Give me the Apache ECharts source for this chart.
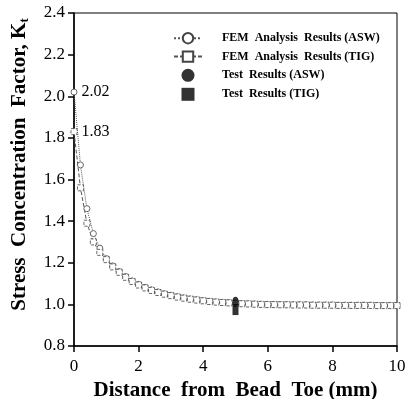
<!DOCTYPE html>
<html>
<head>
<meta charset="utf-8">
<script src="https://cdn.jsdelivr.net/npm/echarts@6/dist/echarts.min.js"></script>
<style>
  html, body { margin: 0; padding: 0; background: #fff; }
  #chart { width: 410px; height: 399px; }
</style>
</head>
<body>
<div id="chart"></div>
<script>
// distance from bead toe (mm)
const distance = [0, 0.2, 0.4, 0.6, 0.8, 1.0, 1.2, 1.4, 1.6, 1.8,
  2.0, 2.2, 2.4, 2.6, 2.8, 3.0, 3.2, 3.4, 3.6, 3.8,
  4.0, 4.2, 4.4, 4.6, 4.8, 5.0, 5.2, 5.4, 5.6, 5.8,
  6.0, 6.2, 6.4, 6.6, 6.8, 7.0, 7.2, 7.4, 7.6, 7.8,
  8.0, 8.2, 8.4, 8.6, 8.8, 9.0, 9.2, 9.4, 9.6, 9.8, 10.0]

const femAsw = [2.02, 1.67, 1.46, 1.34, 1.27, 1.22, 1.185, 1.158, 1.134, 1.113,
  1.096, 1.082, 1.070, 1.060, 1.051, 1.044, 1.037, 1.031, 1.026, 1.022,
  1.018, 1.015, 1.012, 1.010, 1.008, 1.006, 1.004, 1.003, 1.002, 1.001,
  1.000, 1.000, 0.999, 0.999, 0.998, 0.998, 0.998, 0.997, 0.997, 0.997,
  0.997, 0.996, 0.996, 0.996, 0.996, 0.996, 0.996, 0.995, 0.995, 0.995, 0.995]

const femTig = [1.83, 1.56, 1.39, 1.30, 1.25, 1.215, 1.180, 1.154, 1.130, 1.110,
  1.093, 1.079, 1.067, 1.057, 1.049, 1.042, 1.035, 1.030, 1.025, 1.021,
  1.017, 1.014, 1.011, 1.009, 1.007, 1.005, 1.003, 1.002, 1.001, 1.000,
  0.999, 0.999, 0.998, 0.998, 0.997, 0.997, 0.997, 0.996, 0.996, 0.996,
  0.996, 0.995, 0.995, 0.995, 0.995, 0.995, 0.995, 0.994, 0.994, 0.994, 0.994]

const testAsw = [[5.0, 1.015]]
const testTig = [[5.0, 0.975]]

const legendNames = ['FEM  Analysis  Results (ASW)', 'FEM  Analysis  Results (TIG)', 'Test  Results (ASW)', 'Test  Results (TIG)']

const serif = 'Liberation Serif'

const pair = (xs, ys) => xs.map((x, i) => {
  const item = { value: [x, ys[i]] }
  if (i === 0) {
    item.label = {
      show: true, position: 'right', distance: 4,
      formatter: (p) => p.value[1].toFixed(2),
      fontFamily: serif, fontSize: 16, color: '#000'
    }
  }
  return item
})

const chart = echarts.init(document.getElementById('chart'))

const option = {
  animation: false,
  grid: {
    left: 74, right: 13, top: 13, bottom: 53,
    outerBoundsMode: 'none',
    show: true, borderColor: '#000', borderWidth: 1
  },
  legend: {
    orient: 'vertical',
    left: 168, top: 27,
    itemWidth: 28, itemHeight: 13, itemGap: 6,
    textStyle: { fontFamily: serif, fontWeight: 'bold', fontSize: 12, color: '#000', padding: [0, 0, 0, 15] },
    data: [
      { name: legendNames[0] },
      { name: legendNames[1] },
      { name: legendNames[2], icon: 'circle' },
      { name: legendNames[3], icon: 'path://M0,0H10V10H0Z' }
    ]
  },
  xAxis: {
    type: 'value', min: 0, max: 10, interval: 2,
    name: 'Distance  from  Bead  Toe (mm)',
    nameLocation: 'middle', nameGap: 31,
    nameTextStyle: { fontFamily: serif, fontWeight: 'bold', fontSize: 21, color: '#000' },
    axisLine: { onZero: false, lineStyle: { color: '#000', width: 1.5 } },
    axisTick: { inside: false, length: 6, lineStyle: { color: '#000', width: 1.5 } },
    axisLabel: { fontFamily: serif, fontSize: 17, color: '#000', margin: 12 },
    splitLine: { show: false }
  },
  yAxis: {
    type: 'value', min: 0.8, max: 2.4, interval: 0.2,
    name: '{a|Stress  Concentration  Factor, K}{s|t}',
    nameLocation: 'middle', nameGap: 43,
    nameTextStyle: {
      fontFamily: serif, fontWeight: 'bold', fontSize: 21, color: '#000',
      rich: {
        a: { fontFamily: serif, fontWeight: 'bold', fontSize: 21, color: '#000', padding: [0, 0, 0, 30] },
        s: { fontFamily: serif, fontWeight: 'bold', fontSize: 13, color: '#000', padding: [9, 0, 0, 0] }
      }
    },
    axisLine: { onZero: false, lineStyle: { color: '#000', width: 1.5 } },
    axisTick: { length: 6, lineStyle: { color: '#000', width: 1.5 } },
    axisLabel: { fontFamily: serif, fontSize: 17, color: '#000', margin: 9, formatter: (v) => v.toFixed(1) },
    splitLine: { show: false }
  },
  series: [
    {
      name: legendNames[0],
      type: 'line',
      data: pair(distance, femAsw),
      symbol: 'circle', symbolSize: 6,
      showAllSymbol: true,
      lineStyle: { color: '#555', width: 1, type: 'dotted' },
      itemStyle: { color: '#fff', borderColor: '#444', borderWidth: 0.8 },
      z: 3
    },
    {
      name: legendNames[1],
      type: 'line',
      data: pair(distance, femTig),
      symbol: 'rect', symbolSize: 6,
      showAllSymbol: true,
      lineStyle: { color: '#555', width: 1, type: [4, 2] },
      itemStyle: { color: '#fff', borderColor: '#444', borderWidth: 0.8, borderType: 'dashed' },
      z: 3
    },
    {
      name: legendNames[2],
      type: 'scatter',
      data: testAsw,
      symbol: 'circle', symbolSize: [6, 9],
      itemStyle: { color: '#000' },
      z: 4
    },
    {
      name: legendNames[3],
      type: 'scatter',
      data: testTig,
      symbol: 'rect', symbolSize: [6, 11],
      itemStyle: { color: '#000' },
      z: 4
    }
  ]
}

chart.setOption(option)
</script>
</body>
</html>
